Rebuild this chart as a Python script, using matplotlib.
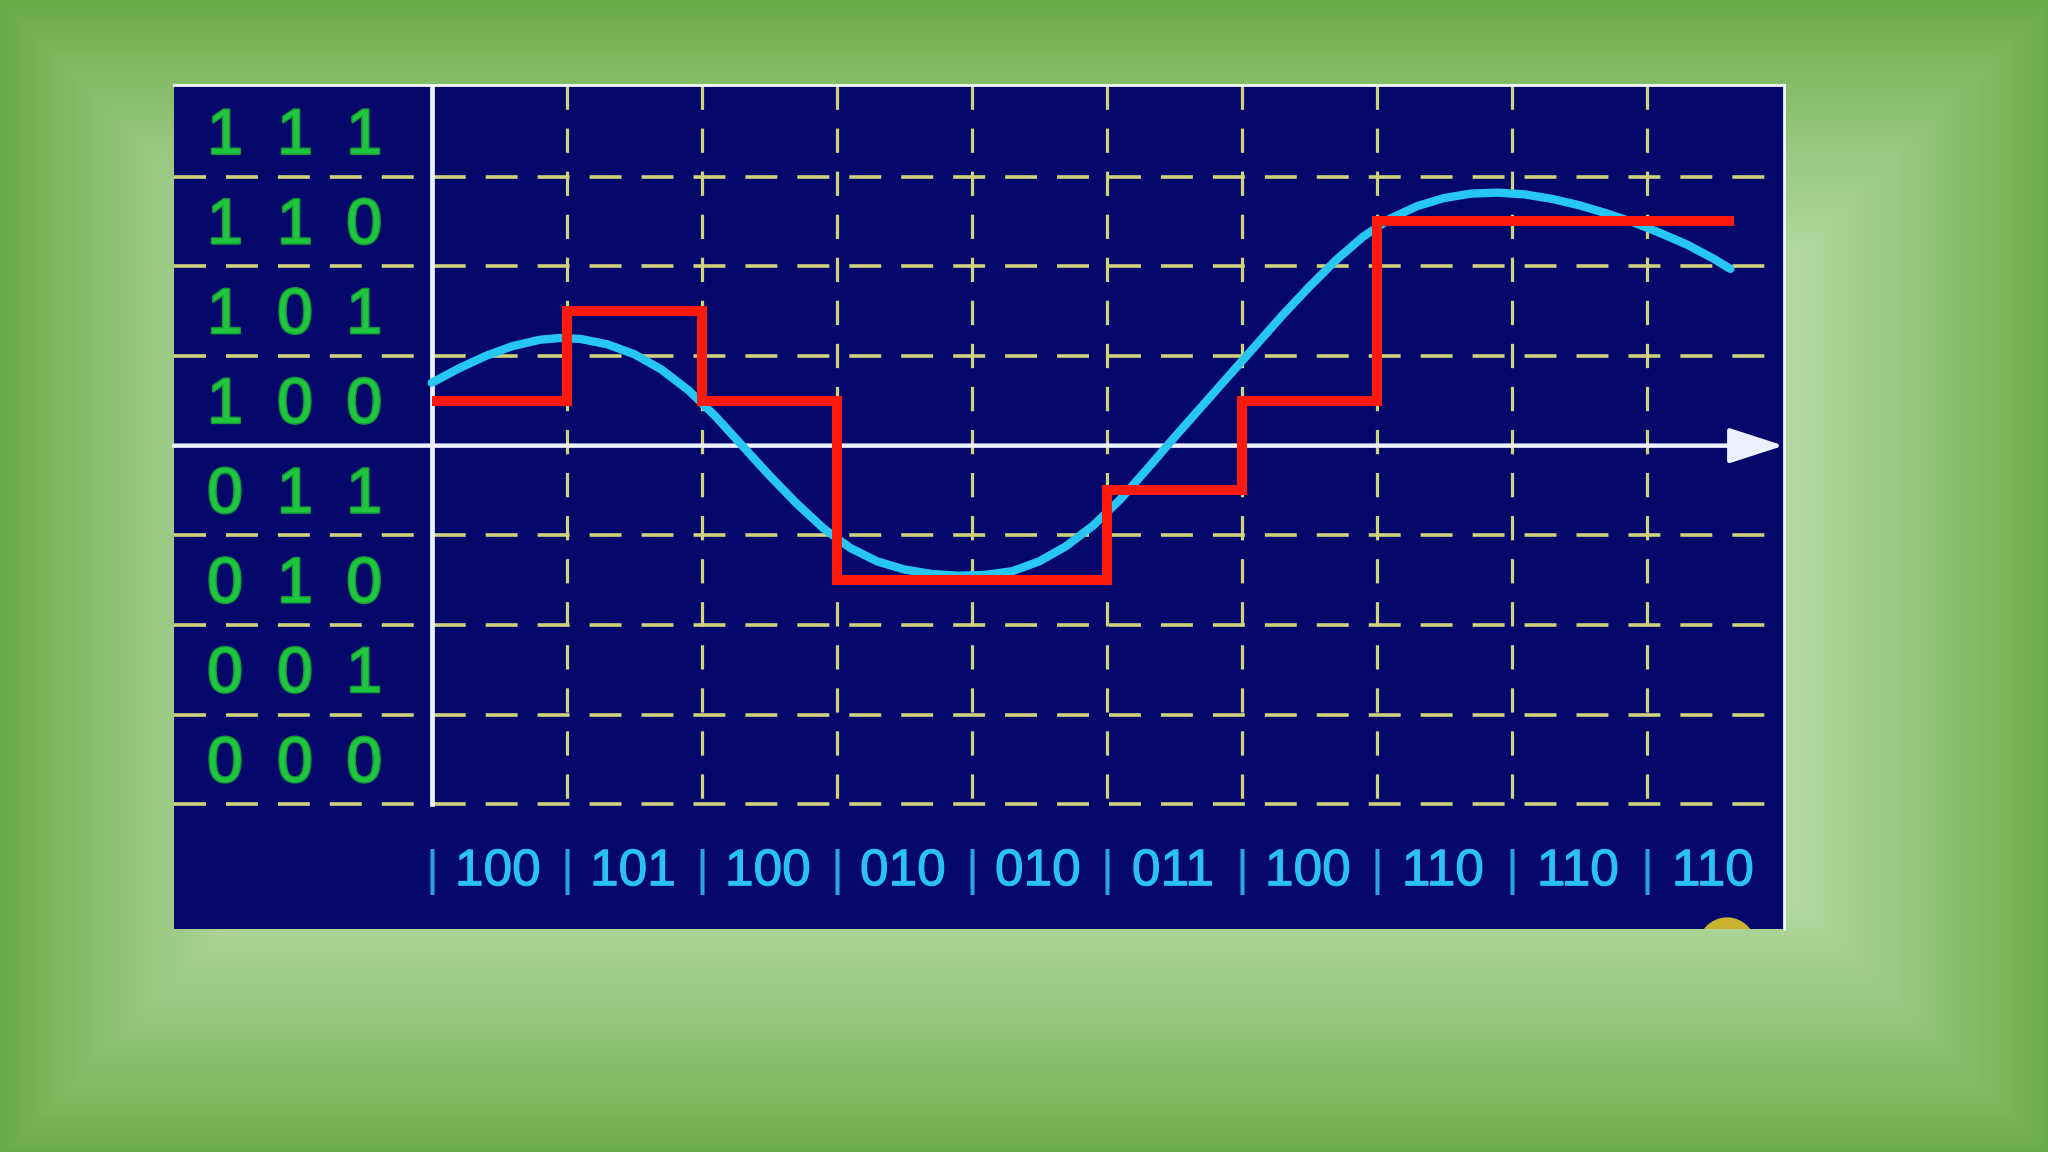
import numpy as np
import matplotlib
matplotlib.use("Agg")
import matplotlib.pyplot as plt
from matplotlib.patches import Ellipse
import matplotlib.patheffects as pe

plt.rcParams['lines.scale_dashes'] = False
plt.rcParams['font.family'] = ['Liberation Sans', 'DejaVu Sans']

# ---------------- data ----------------
level_codes = ['111', '110', '101', '100', '011', '010', '001', '000']
sample_codes = ['100', '101', '100', '010', '010', '011', '100', '110', '110', '110']

signal_x = [0.00, 0.20, 0.40, 0.60, 0.80, 0.95, 1.10, 1.30, 1.50, 1.70,
            1.90, 2.10, 2.30, 2.50, 2.70, 2.90, 3.10, 3.30, 3.50, 3.70,
            3.90, 4.10, 4.30, 4.50, 4.70, 4.90, 5.10, 5.30, 5.50, 5.70,
            5.90, 6.10, 6.30, 6.50, 6.70, 6.90, 7.10, 7.30, 7.50, 7.70,
            7.90, 8.10, 8.30, 8.50, 8.70, 8.90, 9.10, 9.30, 9.50, 9.62]
signal_y = [4.70, 4.86, 5.00, 5.11, 5.18, 5.20, 5.19, 5.13, 5.02, 4.85,
            4.62, 4.33, 4.00, 3.67, 3.36, 3.08, 2.86, 2.71, 2.62, 2.57,
            2.55, 2.56, 2.60, 2.71, 2.88, 3.11, 3.40, 3.74, 4.09, 4.43,
            4.77, 5.11, 5.45, 5.77, 6.07, 6.33, 6.53, 6.67, 6.76, 6.81,
            6.82, 6.80, 6.75, 6.68, 6.59, 6.49, 6.37, 6.24, 6.08, 5.97]

# ---------------- figure ----------------
W, H = 2048, 1152
fig = plt.figure(figsize=(W / 100, H / 100), dpi=100)

# green bevel-like background (lighter away from the edges)
bg = fig.add_axes([0, 0, 1, 1], zorder=-5)
gy, gx = np.mgrid[0:H:4, 0:W:4].astype(float)
e = np.minimum(np.minimum(gx, W - gx), np.minimum(gy, H - gy))
t = np.clip(e / 250.0, 0, 1) ** 0.85
t = t[..., None]
light = np.array([0xb2, 0xd8, 0x9f]) / 255
dark = np.array([0x6a, 0xab, 0x46]) / 255
img = dark * (1 - t) + light * t
bg.imshow(img, extent=[0, 1, 0, 1], aspect='auto', origin='upper', interpolation='bilinear')
bg.set_axis_off()

# main panel
px0, px1, py_top, py_bot = 174, 1784, 85, 929
ax = fig.add_axes([px0 / W, (H - py_bot) / H, (px1 - px0) / W, (py_bot - py_top) / H], zorder=1)
ax.set_facecolor('#03086a')
XMIN, XMAX, YMIN, YMAX = -1.909, 10.017, -1.388, 8.02
ax.set_xlim(XMIN, XMAX)
ax.set_ylim(YMIN, YMAX)
ax.set_xticks([])
ax.set_yticks([])
for s in ['left', 'bottom']:
    ax.spines[s].set_visible(False)
for s in ['top', 'right']:
    ax.spines[s].set_color('#f4f8ff')
    ax.spines[s].set_linewidth(2)

n_levels = len(level_codes)
n_samples = len(sample_codes)
axis_level = n_levels // 2
grid_col = '#d0d27c'

# horizontal dashed grid
for yv in range(0, n_levels):
    if yv == axis_level:
        continue
    ax.plot([XMIN, 9.94], [yv, yv], color=grid_col, lw=2.6,
            ls=(0, (23, 14.4)), dash_capstyle='butt', zorder=1)
# vertical dashed grid
for xv in range(1, n_samples):
    ax.plot([xv, xv], [YMAX, 0], color=grid_col, lw=2.3,
            ls=(0, (17.5, 13.5)), dash_capstyle='butt', zorder=1)

# white axes
ax.plot([0, 0], [0, YMAX], color='#eef0ff', lw=3.4, zorder=2)
ax.annotate('', xy=(10.015, axis_level), xytext=(XMIN, axis_level),
            arrowprops=dict(arrowstyle='-|>,head_length=1.7,head_width=0.55',
                            mutation_scale=20, color='#eef0ff', lw=3.2,
                            shrinkA=0, shrinkB=0), zorder=2)

# analog signal
ax.plot(signal_x, signal_y, color='#28c6f2', lw=6, solid_joinstyle='round',
        solid_capstyle='round', zorder=3)

# quantized staircase
values = [int(c, 2) + 0.5 for c in sample_codes]
edges = list(range(n_samples)) + [9.65]
ax.stairs(values, edges, baseline=None, color='#ff1a0c', lw=7.2, zorder=4)

# level labels (green binary digits)
green = '#1fc63e'
digit_x = [-1.531, -1.013, -0.50]
for code in level_codes:
    v = int(code, 2)
    for ch, xx in zip(code, digit_x):
        ax.text(xx, v + 0.5 - 0.245, ch, ha='center', va='baseline',
                fontsize=46, color=green, zorder=5,
                path_effects=[pe.withStroke(linewidth=2.0, foreground='#139a36')])

# sample codes (cyan)
cyan = '#2cc2f0'
for k, code in enumerate(sample_codes):
    ax.text(k, -0.90, '|', ha='center', va='baseline', fontsize=36,
            color='#2aa6dc', zorder=5)
    ax.text(k + 0.49, -0.90, code, ha='center', va='baseline', fontsize=37,
            color=cyan, zorder=5,
            path_effects=[pe.withStroke(linewidth=0.8, foreground=cyan)])

# small logo peeking at the bottom edge
ax.add_patch(Ellipse((9.595, -1.578), 0.415, 0.624, color='#c9b22e', zorder=5))

fig.savefig('out.png', dpi=100)
